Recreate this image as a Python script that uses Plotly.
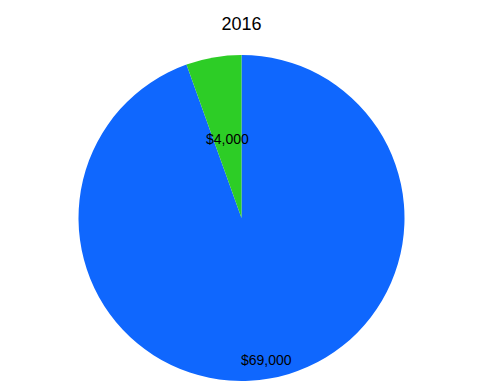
import math
import plotly.graph_objects as go

labels = ["A", "B"]
values = [69000, 4000]
colors = ["#0F67FE", "#2DCD26"]
title = "2016"

# label radius as fraction of pie radius (style)
label_radius = [0.885, 0.495]

W, H = 483, 390
MT, MB = 55, 9
plot_h = H - MT - MB
R = plot_h / 2

fig = go.Figure(go.Pie(
    labels=labels,
    values=values,
    marker=dict(colors=colors, line=dict(width=0)),
    sort=False,
    direction="clockwise",
    rotation=0,
    textinfo="none",
    showlegend=False,
    hoverinfo="none",
))

total = sum(values)
cum = 0
annotations = []
for v, rf in zip(values, label_radius):
    mid = (cum + v / 2) / total * 2 * math.pi
    cum += v
    dx = math.sin(mid) * R * rf
    dy = math.cos(mid) * R * rf
    annotations.append(dict(
        x=0.5 + dx / W, y=0.5 + dy / plot_h, xref="paper", yref="paper",
        text="$" + f"{v:,}", showarrow=False, xanchor="center", yanchor="middle",
        font=dict(size=14, color="black", family="Liberation Sans, Arial, sans-serif"),
    ))

fig.update_layout(
    width=W, height=H,
    margin=dict(l=0, r=0, t=MT, b=MB),
    title=dict(text=title, x=0.5, xanchor="center", y=1 - 24 / H, yanchor="middle",
               font=dict(size=18, color="black", family="Liberation Sans, Arial, sans-serif")),
    paper_bgcolor="white",
    showlegend=False,
    annotations=annotations,
)
fig.write_html("out.html")
